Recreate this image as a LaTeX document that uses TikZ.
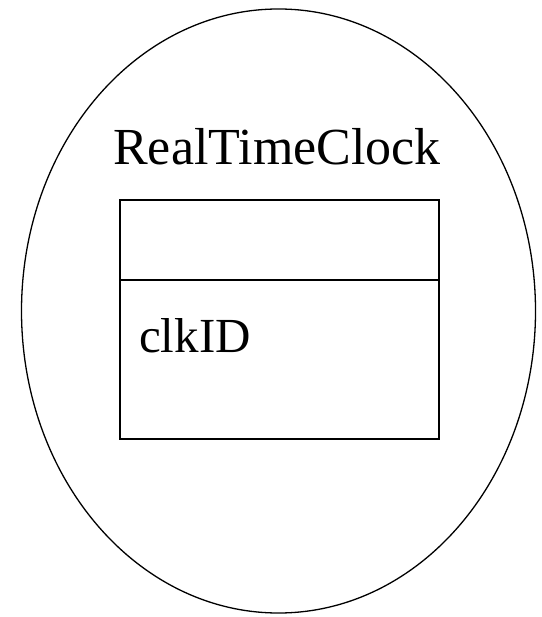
\documentclass[tikz,border=0pt]{standalone}
\usepackage{fontspec}
\setmainfont{Liberation Serif}
\usetikzlibrary{shapes.geometric}
\begin{document}
\begin{tikzpicture}[x=1pt,y=-1pt,
  outline/.style={draw=black,line width=1.3pt},
  lbl/.style={inner sep=0pt,anchor=base}]
\useasboundingbox (0,0) rectangle (541,617);
\node[outline,ellipse,minimum width=514pt,minimum height=604pt,inner sep=0pt] (oval) at (278.5,311) {};
\node[outline,rectangle,minimum width=319pt,minimum height=239pt,inner sep=0pt] (cls) at (279.5,319.5) {};
\coordinate (divL) at (120,280);
\coordinate (divR) at (439,280);
\draw[line width=1.3pt] (divL) -- (divR);
\node[lbl,font=\fontsize{52}{60}\selectfont] (title) at (277,165) {RealTimeClock};
\node[lbl,anchor=base west,font=\fontsize{49}{58}\selectfont] (attr) at (139,352) {clkID};
\end{tikzpicture}
\end{document}
